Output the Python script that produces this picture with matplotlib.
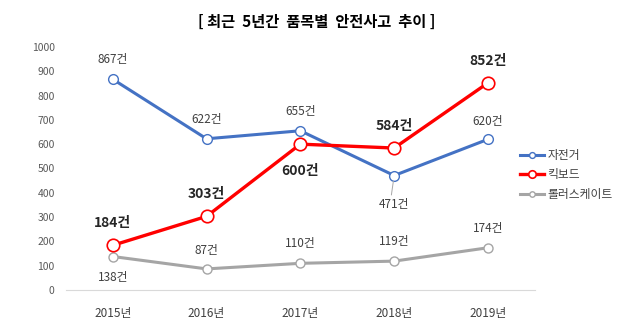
import matplotlib
import matplotlib.pyplot as plt
import numpy as np

matplotlib.use("Agg")
plt.rcParams["font.family"] = ["Noto Sans CJK KR", "DejaVu Sans"]

years = ["2015년", "2016년", "2017년", "2018년", "2019년"]
bike = [867, 622, 655, 471, 620]
kick = [184, 303, 600, 584, 852]
roller = [138, 87, 110, 119, 174]

# label offsets in points (dy), positive = above
bike_dy = [14, 14, 14, -21, 13]
kick_dy = [16, 16, -19, 16, 16]
roller_dy = [-15, 13, 14, 14, 14]

BLUE = "#4472C4"
RED = "#FF0000"
GRAY = "#A5A5A5"
TXT = "#404040"

fig = plt.figure(figsize=(6.33, 3.3), dpi=100)
ax = fig.add_axes([0.104, 0.121, 0.741, 0.737])
x = np.arange(len(years))

ax.plot(x, bike, color=BLUE, lw=2.2, marker="o", ms=7, mfc="white", mec=BLUE, mew=1.0, label="자전거", zorder=3)
ax.plot(x, kick, color=RED, lw=2.4, marker="o", ms=9, mfc="white", mec=RED, mew=1.2, label="킥보드", zorder=4)
ax.plot(x, roller, color=GRAY, lw=2.2, marker="o", ms=6.5, mfc="white", mec=GRAY, mew=1.0, label="롤러스케이트", zorder=2)

for xi, v, dy in zip(x, bike, bike_dy):
    ax.annotate(f"{v}건", (xi, v), xytext=(0, dy), textcoords="offset points",
                ha="center", va="center", fontsize=8.5, color=TXT)
for xi, v, dy in zip(x, kick, kick_dy):
    ax.annotate(f"{v}건", (xi, v), xytext=(0, dy), textcoords="offset points",
                ha="center", va="center", fontsize=10, color="#262626", fontweight="bold")
for xi, v, dy in zip(x, roller, roller_dy):
    ax.annotate(f"{v}건", (xi, v), xytext=(0, dy), textcoords="offset points",
                ha="center", va="center", fontsize=8.5, color=TXT)

# thin leader line under the 2018 bike point
ax.annotate("", (x[3], bike[3]), xytext=(-2, -14), textcoords="offset points",
            arrowprops=dict(arrowstyle="-", color="#A6A6A6", lw=0.7, shrinkA=0, shrinkB=4))

ax.set_xlim(-0.5, len(years) - 0.5)
ax.set_ylim(0, 1000)
ax.set_yticks(range(0, 1001, 100))
ax.set_xticks(x)
ax.set_xticklabels(years)
ax.tick_params(axis="y", length=0, labelsize=7.5, labelcolor="#595959", pad=8)
ax.tick_params(axis="x", length=0, labelsize=8.5, labelcolor=TXT, pad=12)
for s in ["top", "right", "left"]:
    ax.spines[s].set_visible(False)
ax.spines["bottom"].set_color("#D9D9D9")

ax.legend(loc="center left", bbox_to_anchor=(0.805, 0.47), bbox_transform=fig.transFigure,
          frameon=False, fontsize=8.5, markerscale=0.6, handlelength=2.0,
          labelspacing=0.55, handletextpad=0.3, labelcolor=TXT)

fig.text(0.5, 0.935, "[ 최근  5년간  품목별  안전사고  추이 ]", ha="center", va="center",
         fontsize=11, fontweight="bold", color="black")

fig.savefig("out.png", dpi=100)
